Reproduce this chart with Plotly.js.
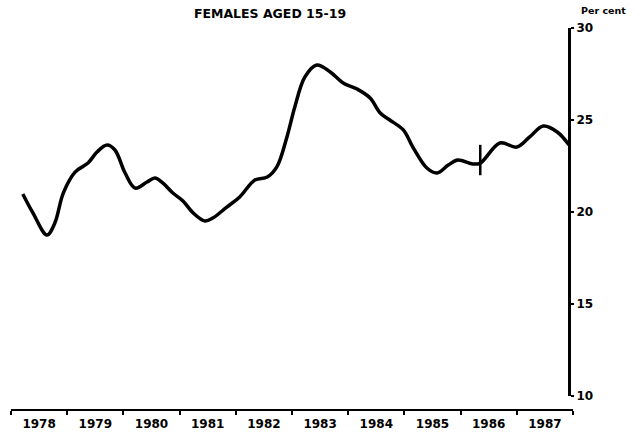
<!DOCTYPE html>
<html>
<head>
<meta charset="utf-8">
<script src="https://cdn.plot.ly/plotly-3.0.1.min.js"></script>
<style>html,body{margin:0;padding:0;background:#fff;}#chart{width:644px;height:438px;}</style>
</head>
<body>
<div id="chart"></div>
<script>
// Time in decimal years, values in per cent
const years = [1978.21,1978.39,1978.64,1978.78,1978.93,1979.14,1979.37,1979.53,1979.71,1979.85,
  1980.03,1980.21,1980.42,1980.56,1980.70,1980.88,1981.06,1981.24,1981.45,1981.59,
  1981.84,1982.07,1982.34,1982.56,1982.73,1982.91,1983.05,1983.23,1983.44,1983.68,
  1983.91,1984.16,1984.39,1984.57,1984.74,1984.98,1985.15,1985.40,1985.58,1985.78,
  1985.95,1986.22,1986.35,1986.70,1987.00,1987.23,1987.47,1987.72,1987.93];
const perCent = [20.98,19.95,18.75,19.40,21.03,22.17,22.66,23.26,23.64,23.37,
  22.12,21.30,21.63,21.85,21.58,21.03,20.60,19.95,19.51,19.67,
  20.27,20.82,21.74,21.90,22.45,24.08,25.71,27.34,27.99,27.61,
  27.01,26.68,26.20,25.38,25.00,24.46,23.53,22.39,22.12,22.55,
  22.83,22.61,22.66,23.75,23.53,24.08,24.67,24.35,23.64];
// Series break marker
const breakX = [1986.35, 1986.35];
const breakY = [22.0, 23.65];
// Axis ticks and labels
const yearBounds = [1978,1979,1980,1981,1982,1983,1984,1985,1986,1987,1988];
const yearMids = [1978.5,1979.5,1980.5,1981.5,1982.5,1983.5,1984.5,1985.5,1986.5,1987.5];
const yearLabels = ['1978','1979','1980','1981','1982','1983','1984','1985','1986','1987'];
const yTicks = [10,15,20,25,30];

const font = 'DejaVu Sans, Liberation Sans, sans-serif';

const traces = [
  {x: years, y: perCent, type: 'scatter', mode: 'lines',
   line: {color: '#000', width: 3.5, shape: 'spline', smoothing: 1}, hoverinfo: 'skip'},
  {x: breakX, y: breakY, type: 'scatter', mode: 'lines',
   line: {color: '#000', width: 2.5}, hoverinfo: 'skip'}
];

const layout = {
  width: 644, height: 438,
  margin: {l: 11, r: 71, t: 28, b: 28, pad: 0},
  paper_bgcolor: '#fff', plot_bgcolor: '#fff',
  showlegend: false,
  title: {text: '<b>FEMALES AGED 15-19</b>', x: 270/644, xanchor: 'center', y: 1 - 14/438, yanchor: 'middle',
    font: {family: font, size: 12.5, color: '#000'}},
  xaxis: {
    range: [1978, 1988], anchor: 'free', position: 0,
    showline: true, linecolor: '#000', linewidth: 2,
    showgrid: false, zeroline: false,
    tickmode: 'array', tickvals: yearMids, ticktext: yearLabels.map(s => '<b>' + s + '</b>'),
    ticks: '', ticklabelstandoff: 3, tickfont: {family: font, size: 12, color: '#000'},
    minor: {tickmode: 'array', tickvals: yearBounds, ticks: 'outside', ticklen: 4, tickwidth: 2, tickcolor: '#000', showgrid: false}
  },
  yaxis: {
    range: [10, 30], domain: [14/382, 1], anchor: 'free', position: (569 - 11) / 562, side: 'right',
    showline: true, linecolor: '#000', linewidth: 3,
    showgrid: false, zeroline: false,
    tickmode: 'array', tickvals: yTicks, ticktext: yTicks.map(v => '<b>' + v + '</b>'),
    ticks: 'outside', ticklen: 3, tickwidth: 2, tickcolor: '#000',
    tickfont: {family: font, size: 12, color: '#000'}
  },
  annotations: [
    {text: '<b>Per cent</b>', xref: 'paper', yref: 'paper', x: (603 - 11) / 562, y: 1 + 18/382,
     xanchor: 'center', yanchor: 'middle', showarrow: false,
     font: {family: font, size: 9.5, color: '#000'}}
  ]
};

Plotly.newPlot('chart', traces, layout, {displayModeBar: false, staticPlot: true});
</script>
</body>
</html>
